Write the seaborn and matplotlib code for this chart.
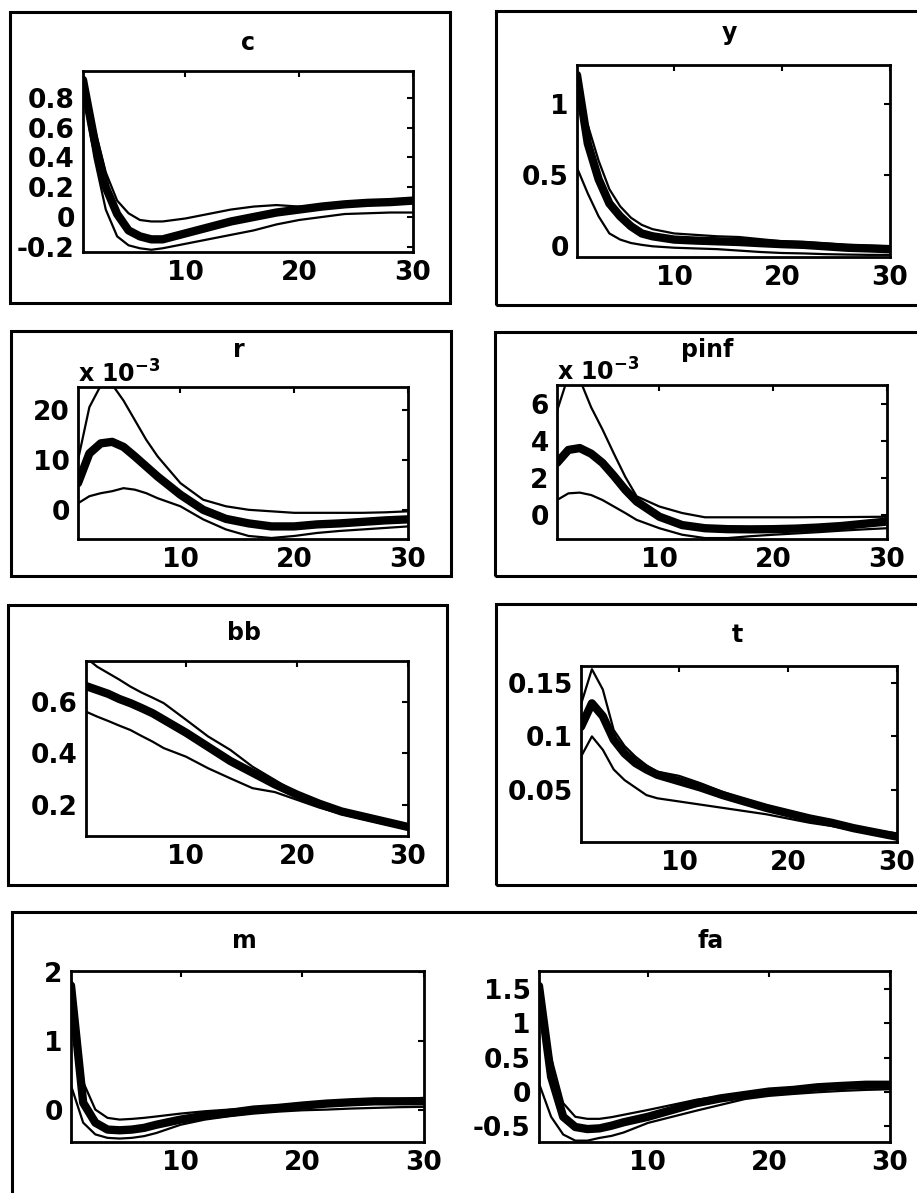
import numpy as np
import pandas as pd
import matplotlib
matplotlib.use("Agg")
import matplotlib.pyplot as plt
import seaborn as sns
from matplotlib.patches import Rectangle
from matplotlib.ticker import FuncFormatter

hor = [1, 2, 3, 4, 5, 6, 7, 8, 10, 12, 14, 16, 18, 20, 22, 24, 26, 28, 30]

# c
c_med = [0.92, 0.52, 0.20, 0.02, -0.09, -0.13, -0.15, -0.15, -0.11, -0.07, -0.03, 0.0, 0.03, 0.05, 0.07, 0.085, 0.095, 0.10, 0.11]
c_hi = [0.95, 0.60, 0.30, 0.11, 0.025, -0.02, -0.03, -0.03, -0.01, 0.02, 0.05, 0.07, 0.08, 0.07, 0.08, 0.085, 0.09, 0.10, 0.12]
c_lo = [0.85, 0.40, 0.05, -0.13, -0.19, -0.21, -0.22, -0.21, -0.18, -0.15, -0.12, -0.09, -0.05, -0.02, 0.0, 0.02, 0.025, 0.03, 0.03]
# y
y_med = [1.20, 0.72, 0.47, 0.30, 0.21, 0.14, 0.09, 0.07, 0.047, 0.04, 0.035, 0.03, 0.022, 0.015, 0.01, 0.0, -0.01, -0.015, -0.02]
y_hi = [1.02, 0.85, 0.60, 0.40, 0.28, 0.20, 0.15, 0.12, 0.09, 0.08, 0.07, 0.065, 0.05, 0.035, 0.03, 0.02, 0.01, 0.005, 0.0]
y_lo = [0.55, 0.37, 0.21, 0.09, 0.047, 0.023, 0.01, 0.0, -0.01, -0.015, -0.02, -0.03, -0.04, -0.047, -0.05, -0.055, -0.058, -0.06, -0.06]
# r (x 10^-3)
r_med = [5.4, 11.3, 13.3, 13.6, 12.6, 10.7, 8.7, 6.7, 3.1, 0.1, -1.7, -2.6, -3.2, -3.2, -2.8, -2.6, -2.3, -2.0, -1.8]
r_hi = [10.0, 20.5, 24.8, 25.0, 21.8, 17.9, 14.0, 10.7, 5.4, 2.1, 0.8, 0.1, -0.2, -0.5, -0.5, -0.5, -0.5, -0.4, -0.2]
r_lo = [1.4, 2.8, 3.4, 3.8, 4.4, 4.1, 3.4, 2.4, 0.8, -1.8, -3.8, -5.1, -5.5, -5.1, -4.5, -4.1, -3.8, -3.5, -3.2]
# pinf (x 10^-3)
p_med = [2.8, 3.5, 3.6, 3.3, 2.8, 2.1, 1.35, 0.72, -0.1, -0.55, -0.72, -0.77, -0.78, -0.77, -0.74, -0.68, -0.6, -0.48, -0.36]
p_hi = [5.6, 7.5, 7.3, 5.8, 4.6, 3.3, 2.05, 1.0, 0.45, 0.1, -0.13, -0.13, -0.13, -0.13, -0.13, -0.12, -0.12, -0.11, -0.1]
p_lo = [0.8, 1.16, 1.2, 1.07, 0.8, 0.45, 0.1, -0.27, -0.72, -1.07, -1.25, -1.25, -1.15, -1.07, -1.0, -0.93, -0.85, -0.78, -0.72]
# bb
bb_med = [0.66, 0.645, 0.63, 0.61, 0.594, 0.575, 0.555, 0.53, 0.48, 0.425, 0.37, 0.325, 0.28, 0.24, 0.205, 0.175, 0.155, 0.135, 0.115]
bb_hi = [0.77, 0.735, 0.71, 0.685, 0.658, 0.635, 0.615, 0.594, 0.53, 0.465, 0.413, 0.348, 0.297, 0.245, 0.21, 0.178, 0.155, 0.138, 0.123]
bb_lo = [0.561, 0.542, 0.525, 0.507, 0.49, 0.467, 0.445, 0.42, 0.387, 0.342, 0.303, 0.265, 0.25, 0.22, 0.19, 0.165, 0.145, 0.125, 0.11]
# t
t_med = [0.109, 0.131, 0.119, 0.097, 0.084, 0.075, 0.069, 0.064, 0.058, 0.052, 0.045, 0.039, 0.033, 0.028, 0.023, 0.019, 0.014, 0.010, 0.006]
t_hi = [0.130, 0.163, 0.144, 0.106, 0.091, 0.081, 0.073, 0.067, 0.063, 0.056, 0.048, 0.041, 0.034, 0.030, 0.025, 0.021, 0.016, 0.012, 0.009]
t_lo = [0.081, 0.100, 0.0875, 0.069, 0.059, 0.052, 0.045, 0.042, 0.039, 0.036, 0.033, 0.030, 0.027, 0.023, 0.019, 0.016, 0.012, 0.008, 0.005]
# m
m_med = [1.80, 0.10, -0.19, -0.29, -0.30, -0.29, -0.265, -0.22, -0.145, -0.087, -0.048, 0.0, 0.024, 0.058, 0.087, 0.106, 0.12, 0.12, 0.12]
m_hi = [1.90, 0.40, 0.0, -0.12, -0.145, -0.135, -0.12, -0.10, -0.058, -0.024, 0.0, 0.02, 0.045, 0.07, 0.095, 0.12, 0.14, 0.155, 0.17]
m_lo = [0.35, -0.19, -0.36, -0.41, -0.42, -0.41, -0.385, -0.34, -0.22, -0.145, -0.096, -0.058, -0.03, -0.01, 0.0, 0.015, 0.025, 0.035, 0.04]
# fa
fa_med = [1.55, 0.22, -0.37, -0.52, -0.55, -0.54, -0.50, -0.45, -0.37, -0.27, -0.17, -0.10, -0.05, 0.0, 0.024, 0.063, 0.083, 0.10, 0.10]
fa_hi = [1.60, 0.50, -0.17, -0.37, -0.40, -0.40, -0.375, -0.34, -0.27, -0.195, -0.12, -0.07, -0.03, 0.01, 0.04, 0.065, 0.09, 0.11, 0.13]
fa_lo = [0.12, -0.37, -0.63, -0.72, -0.72, -0.68, -0.65, -0.60, -0.46, -0.37, -0.28, -0.195, -0.11, -0.063, -0.035, -0.01, 0.01, 0.025, 0.034]

names = ["c", "y", "r", "pinf", "bb", "t", "m", "fa"]
series = {
    "c": (c_lo, c_med, c_hi), "y": (y_lo, y_med, y_hi),
    "r": (r_lo, r_med, r_hi), "pinf": (p_lo, p_med, p_hi),
    "bb": (bb_lo, bb_med, bb_hi), "t": (t_lo, t_med, t_hi),
    "m": (m_lo, m_med, m_hi), "fa": (fa_lo, fa_med, fa_hi),
}
yticks = {
    "c": [-0.2, 0, 0.2, 0.4, 0.6, 0.8], "y": [0, 0.5, 1],
    "r": [0, 10, 20], "pinf": [0, 2, 4, 6],
    "bb": [0.2, 0.4, 0.6], "t": [0.05, 0.1, 0.15],
    "m": [0, 1, 2], "fa": [-0.5, 0, 0.5, 1, 1.5],
}
ylims = {
    "c": (-0.235, 0.98), "y": (-0.075, 1.27), "r": (-5.7, 24.5),
    "pinf": (-1.3, 7.0), "bb": (0.08, 0.757), "t": (0.001, 0.166),
    "m": (-0.47, 2.01), "fa": (-0.74, 1.77),
}
scaled = ["r", "pinf"]

# layout in pixels: axes (left, right, top, bottom), title baseline offset, title dx
W, H = 917, 1193
axes_px = {
    "c": (83, 413, 71, 252, 21, 0), "y": (577, 890, 65, 257, 25, -4),
    "r": (78, 408, 387, 539, 30, -4), "pinf": (557, 887, 385, 539, 28, -15),
    "bb": (86, 408, 661, 836, 21, -3), "t": (581, 897, 666, 842, 24, -2),
    "m": (71, 424, 971, 1142, 23, -3), "fa": (539, 890, 971, 1142, 23, -4),
}
boxes_px = [(10, 450, 12, 303), (496, 930, 11, 305), (11, 451, 331, 576),
            (495, 930, 332, 576), (8, 447, 605, 885), (496, 930, 604, 885),
            (12, 930, 912, 1210)]

sns.set_style("white")
plt.rcParams["font.family"] = ["DejaVu Sans"]
plt.rcParams["axes.unicode_minus"] = False
plt.rcParams["text.color"] = "black"
plt.rcParams["xtick.color"] = "black"
plt.rcParams["ytick.color"] = "black"
plt.rcParams["xtick.labelcolor"] = "black"
plt.rcParams["ytick.labelcolor"] = "black"

fig = plt.figure(figsize=(W / 100, H / 100), dpi=100)

for (x0, x1, y0, y1) in boxes_px:
    fig.patches.append(Rectangle((x0 / W, 1 - y1 / H), (x1 - x0) / W, (y1 - y0) / H,
                                 transform=fig.transFigure, fill=False,
                                 lw=2.2, ec="black", zorder=0))

for name in names:
    l, r, t, b, tdy, tdx = axes_px[name]
    ax = fig.add_axes([l / W, 1 - b / H, (r - l) / W, (b - t) / H])
    lo, med, hi = series[name]
    df = pd.DataFrame({"h": hor, "lo": lo, "med": med, "hi": hi})
    sns.lineplot(data=df, x="h", y="hi", ax=ax, color="black", lw=1.6)
    sns.lineplot(data=df, x="h", y="lo", ax=ax, color="black", lw=1.6)
    sns.lineplot(data=df, x="h", y="med", ax=ax, color="black", lw=6)
    ax.set_xlim(1, 30)
    ax.set_ylim(*ylims[name])
    ax.set_xticks([10, 20, 30])
    ax.set_yticks(yticks[name])
    ax.yaxis.set_major_formatter(FuncFormatter(lambda v, p: "%g" % v))
    ax.set_xlabel("")
    ax.set_ylabel("")
    for s in ax.spines.values():
        s.set_linewidth(2.0)
        s.set_color("black")
    ax.tick_params(direction="in", length=4, width=1.5, top=True, right=True,
                   labelsize=19, pad=6, colors="black")
    for lab in ax.get_xticklabels() + ax.get_yticklabels():
        lab.set_fontweight("bold")
    ax.annotate(name, xy=(0.5, 1), xycoords="axes fraction",
                xytext=(tdx, tdy), textcoords="offset pixels",
                ha="center", va="baseline", fontsize=17, fontweight="bold",
                color="black")
    if name in scaled:
        ax.annotate(r"x 10$^{\mathbf{-3}}$", xy=(0, 1), xycoords="axes fraction",
                    xytext=(0, 4), textcoords="offset pixels",
                    ha="left", va="baseline", fontsize=17, fontweight="bold",
                    color="black")

fig.savefig("out.png", dpi=100)
